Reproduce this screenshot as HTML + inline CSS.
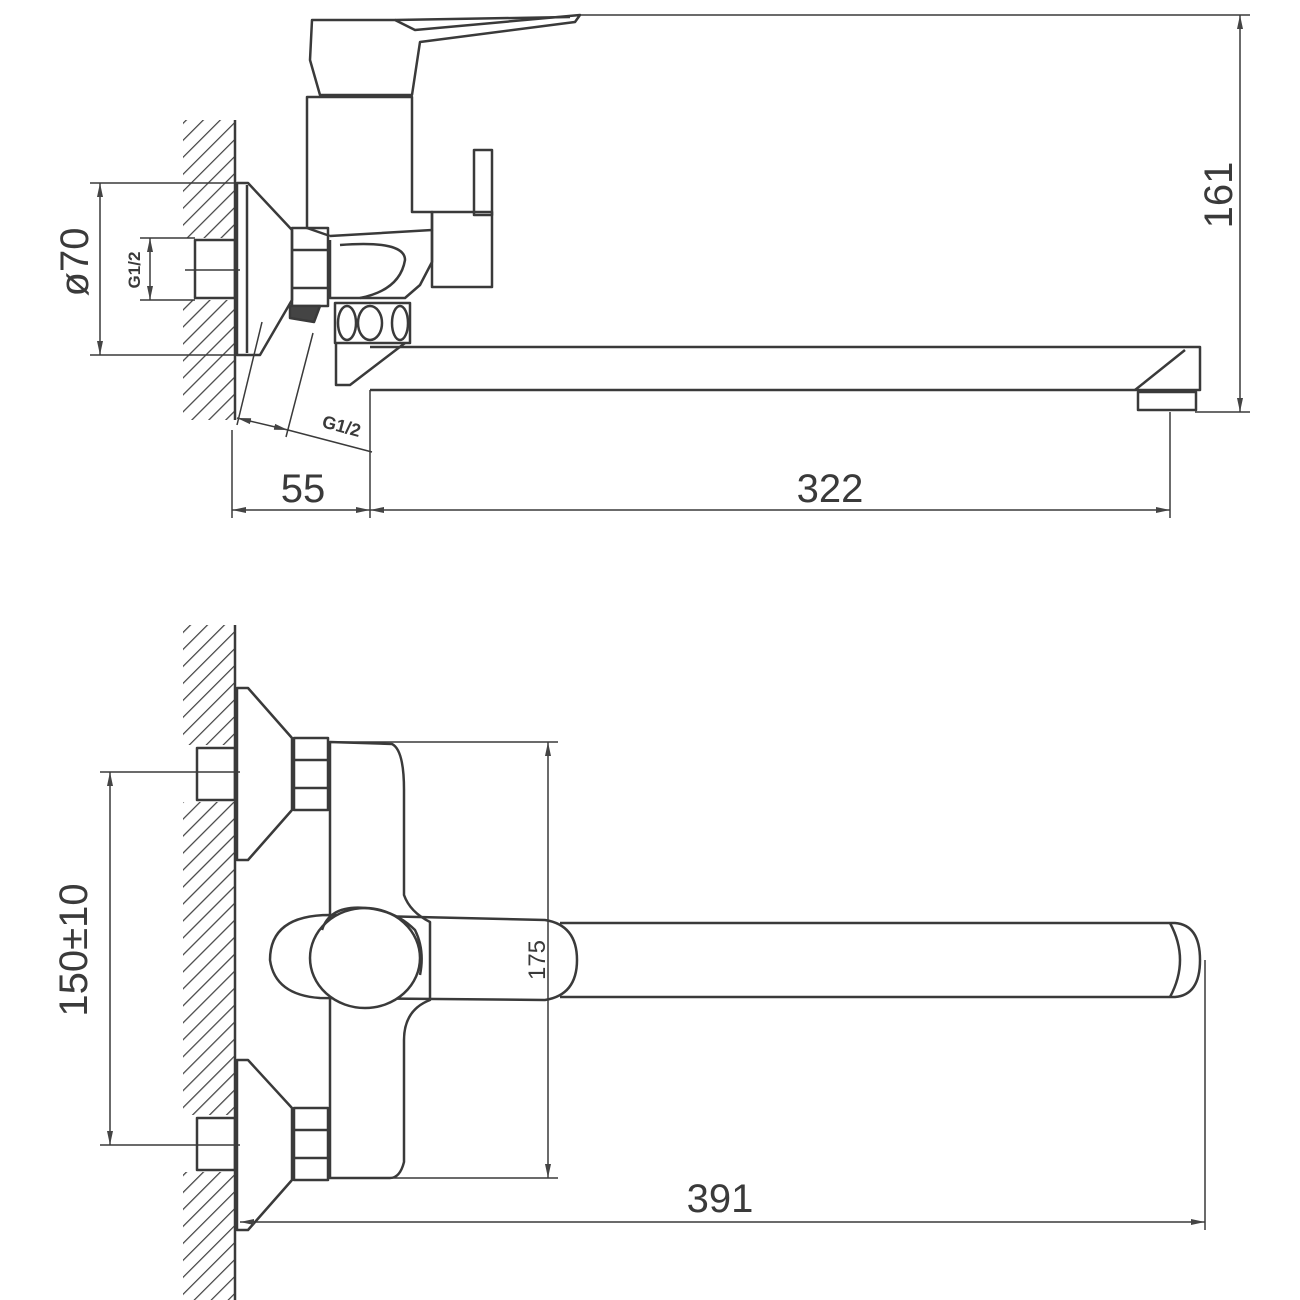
<!DOCTYPE html>
<html><head><meta charset="utf-8"><style>
html,body{margin:0;padding:0;background:#fff}
svg{display:block}
text{font-family:"Liberation Sans",sans-serif;fill:#3a3a3a}
</style></head><body>
<svg width="1300" height="1300" viewBox="0 0 1300 1300" xmlns="http://www.w3.org/2000/svg">
<defs>
<pattern id="h" patternUnits="userSpaceOnUse" width="12" height="12" patternTransform="rotate(45)">
<line x1="0" y1="0" x2="0" y2="12" stroke="#444" stroke-width="2.5"/>
</pattern>
<marker id="a" markerWidth="14" markerHeight="8" refX="14" refY="4" orient="auto" markerUnits="userSpaceOnUse">
<path d="M0,1 L14,4 L0,7 z" fill="#444"/></marker>
<marker id="b" markerWidth="14" markerHeight="8" refX="0" refY="4" orient="auto" markerUnits="userSpaceOnUse">
<path d="M14,1 L0,4 L14,7 z" fill="#444"/></marker>
</defs>
<g fill="none" stroke="#3a3a3a" stroke-width="2.5" stroke-linejoin="round">
<!-- TOP VIEW wall -->
<rect x="183" y="120" width="52" height="300" fill="url(#h)" stroke="none"/>
<rect x="183" y="238" width="52" height="62" fill="#fff" stroke="none"/>
<line x1="235" y1="120" x2="235" y2="420"/>
<rect x="195" y="240" width="40" height="58"/>
<!-- flange -->
<path d="M237,183 L248,183 L292,230 L292,300 L260,355 L237,355 Z"/>
<line x1="247" y1="185" x2="247" y2="353"/>
<!-- nut -->
<rect x="292" y="228" width="36" height="78"/>
<line x1="292" y1="250" x2="328" y2="250"/><line x1="292" y1="288" x2="328" y2="288"/>
<path d="M290,306 L320,306 L314,322 L290,318 Z" fill="#444"/>
<!-- body -->
<path d="M330,236 L432,230 L432,212 L412,212 L412,97 L307,97 L307,228 L330,236"/>
<path d="M330,240 L330,298 L405,298 L420,285 L432,262 L432,230"/>
<path d="M340,245 Q405,240 405,260 Q400,290 360,298"/>
<rect x="432" y="212" width="60" height="75"/>
<rect x="474" y="150" width="18" height="65"/>
<!-- handle -->
<path d="M312,20 L395,20 L415,30 L580,15 L575,22 L420,42 L412,95 L320,95 L310,60 Z"/>
<path d="M395,20 L570,17"/>
<!-- aerator ring -->
<rect x="335" y="303" width="75" height="40"/>
<ellipse cx="347" cy="323" rx="9" ry="17"/><ellipse cx="370" cy="323" rx="12" ry="17"/><ellipse cx="400" cy="323" rx="8" ry="17"/>
<path d="M336,343 L336,385 L350,385 L405,343"/>
<!-- spout -->
<path d="M370,347 L1185,347 L1200,347 L1200,390 L1170,390 L370,390"/>
<path d="M1135,390 L1185,350"/>
<rect x="1138" y="392" width="58" height="18"/>
<!-- dims top -->
<g stroke-width="1.5">
<line x1="580" y1="15" x2="1250" y2="15"/><line x1="1195" y1="412" x2="1250" y2="412"/>
<line x1="1240" y1="15" x2="1240" y2="412" marker-start="url(#b)" marker-end="url(#a)"/>
<line x1="90" y1="183" x2="235" y2="183"/><line x1="90" y1="355" x2="235" y2="355"/>
<line x1="100" y1="183" x2="100" y2="355" marker-start="url(#b)" marker-end="url(#a)"/>
<line x1="140" y1="238" x2="195" y2="238"/><line x1="140" y1="300" x2="195" y2="300"/>
<line x1="150" y1="238" x2="150" y2="300" marker-start="url(#b)" marker-end="url(#a)"/>
<line x1="185" y1="270" x2="240" y2="270"/>
<line x1="232" y1="430" x2="232" y2="518"/><line x1="370" y1="390" x2="370" y2="518"/><line x1="1170" y1="412" x2="1170" y2="518"/>
<line x1="232" y1="510" x2="370" y2="510" marker-start="url(#b)" marker-end="url(#a)"/>
<line x1="370" y1="510" x2="1170" y2="510" marker-start="url(#b)" marker-end="url(#a)"/>
<line x1="262" y1="322" x2="237" y2="425"/><line x1="313" y1="333" x2="286" y2="437"/>
<line x1="237" y1="418" x2="288" y2="430" marker-start="url(#b)" marker-end="url(#a)"/>
<line x1="288" y1="430" x2="372" y2="452"/>
</g>
<!-- BOTTOM VIEW wall -->
<rect x="183" y="625" width="52" height="675" fill="url(#h)" stroke="none"/>
<rect x="183" y="745" width="52" height="57" fill="#fff" stroke="none"/>
<rect x="183" y="1115" width="52" height="57" fill="#fff" stroke="none"/>
<line x1="235" y1="625" x2="235" y2="1300"/>
<rect x="197" y="748" width="38" height="52"/><rect x="197" y="1118" width="38" height="52"/>
<path d="M237,688 L248,688 L292,738 L292,810 L248,860 L237,860 Z"/>
<path d="M237,1060 L248,1060 L292,1108 L292,1180 L248,1230 L237,1230 Z"/>
<rect x="294" y="738" width="34" height="72"/><line x1="294" y1="760" x2="328" y2="760"/><line x1="294" y1="788" x2="328" y2="788"/>
<rect x="294" y="1108" width="34" height="72"/><line x1="294" y1="1130" x2="328" y2="1130"/><line x1="294" y1="1158" x2="328" y2="1158"/>
<!-- body -->
<path d="M330,742 L392,744 Q404,750 404,790 L404,895 Q410,912 430,922 L430,1000 Q404,1010 404,1040 L404,1162 Q400,1178 390,1178 L330,1178 Z"/>
<!-- spout -->
<path d="M560,923 L1175,923 Q1200,925 1200,960 Q1200,995 1175,997 L560,997"/>
<path d="M1170,923 Q1190,960 1170,997"/>
<!-- handle -->
<path d="M330,915 Q270,915 270,960 Q275,995 320,998 L545,1000 Q577,995 577,960 Q577,925 545,920 Z"/>
<ellipse cx="365" cy="958" rx="55" ry="50" fill="#fff"/>
<path d="M322,930 Q330,905 365,908 Q395,910 415,930 Q425,950 420,975"/>
<!-- dims bottom -->
<g stroke-width="1.5">
<line x1="100" y1="772" x2="240" y2="772"/><line x1="100" y1="1145" x2="240" y2="1145"/>
<line x1="110" y1="772" x2="110" y2="1145" marker-start="url(#b)" marker-end="url(#a)"/>
<line x1="330" y1="742" x2="558" y2="742"/><line x1="330" y1="1178" x2="558" y2="1178"/>
<line x1="548" y1="742" x2="548" y2="1178" marker-start="url(#b)" marker-end="url(#a)"/>
<line x1="1205" y1="960" x2="1205" y2="1230"/>
<line x1="240" y1="1222" x2="1205" y2="1222" marker-start="url(#b)" marker-end="url(#a)"/>
</g>
</g>
<text x="1232" y="195" font-size="40" transform="rotate(-90 1232 195)" text-anchor="middle">161</text>
<text x="88" y="262" font-size="40" transform="rotate(-90 88 262)" text-anchor="middle">ø70</text>
<text x="140" y="270" font-size="17" font-weight="bold" transform="rotate(-90 140 270)" text-anchor="middle">G1/2</text>
<text x="340" y="432" font-size="18" font-weight="bold" transform="rotate(15 340 432)" text-anchor="middle">G1/2</text>
<text x="303" y="502" font-size="40" text-anchor="middle">55</text>
<text x="830" y="502" font-size="40" text-anchor="middle">322</text>
<text x="87" y="950" font-size="40" transform="rotate(-90 87 950)" text-anchor="middle">150±10</text>
<text x="545" y="960" font-size="24" transform="rotate(-90 545 960)" text-anchor="middle">175</text>
<text x="720" y="1212" font-size="40" text-anchor="middle">391</text>
</svg>
</body></html>
